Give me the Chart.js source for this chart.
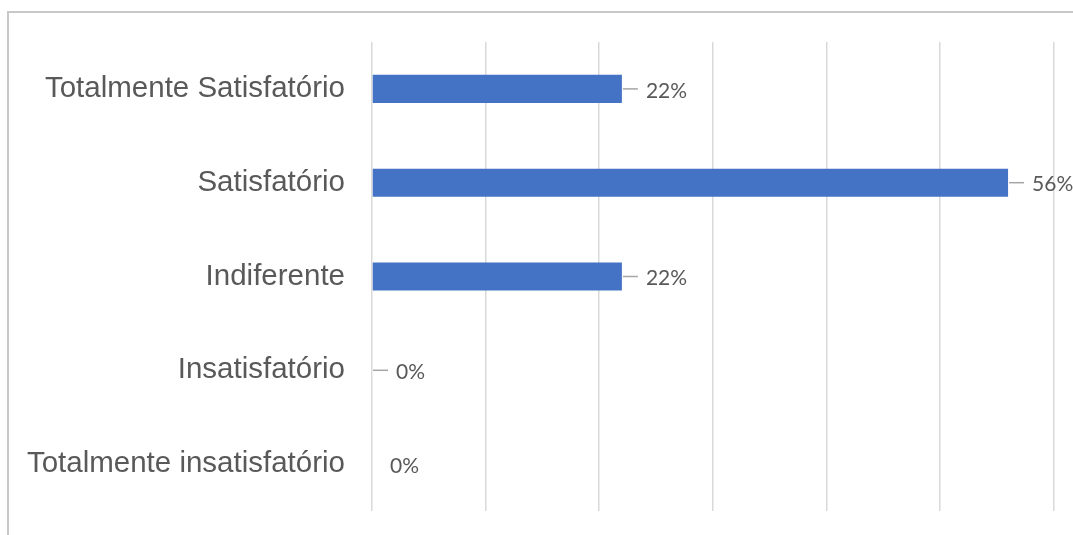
<!DOCTYPE html>
<html>
<head>
<meta charset="utf-8">
<script src="https://cdn.jsdelivr.net/npm/chart.js@4"></script>
<style>
  body { margin: 0; background: #fff; overflow: hidden; }
  #frame {
    position: absolute; left: 7px; top: 11px; width: 1200px; height: 600px;
    border-top: 2px solid #c8c8c8; border-left: 2px solid #c8c8c8;
  }
  #wrap { position: absolute; left: 0; top: 0; width: 1073px; height: 535px; }
</style>
</head>
<body>
<div id="frame"></div>
<div id="wrap"><canvas id="bar-chart"></canvas></div>
<script>
// respostas da pesquisa de satisfacao (%)
let categorias = [
  "Totalmente Satisfatório",
  "Satisfatório",
  "Indiferente",
  "Insatisfatório",
  "Totalmente insatisfatório",
];
let valores = [22, 56, 22, 0, 0];
// linha guia entre a barra e o rotulo
let linhaGuia = [true, true, true, true, false];

// desenha o rotulo de cada barra com a linha guia
const rotulos = {
  id: "rotulos",
  afterDatasetsDraw(chart) {
    const ctx = chart.ctx;
    const meta = chart.getDatasetMeta(0);
    ctx.save();
    ctx.font = "21px Lato";
    ctx.fillStyle = "#595959";
    ctx.textBaseline = "middle";
    ctx.textAlign = "left";
    meta.data.forEach(function (bar, i) {
      let x = bar.x;
      let y = bar.y;
      if (linhaGuia[i]) {
        ctx.strokeStyle = "#a6a6a6";
        ctx.lineWidth = 1.5;
        ctx.beginPath();
        ctx.moveTo(x + 1, y);
        ctx.lineTo(x + 16, y);
        ctx.stroke();
        ctx.fillText(valores[i] + "%", x + 24, y + 2);
      } else {
        ctx.fillText(valores[i] + "%", x + 18, y + 2);
      }
    });
    ctx.restore();
  },
};

new Chart(document.getElementById("bar-chart"), {
  type: "bar",
  data: {
    labels: categorias,
    datasets: [
      {
        data: valores,
        backgroundColor: "#4472c4",
        barPercentage: 0.3,
        categoryPercentage: 1,
      },
    ],
  },
  options: {
    indexAxis: "y",
    responsive: true,
    maintainAspectRatio: false,
    animation: false,
    layout: { padding: { top: 42, bottom: 24, right: 19.5, left: 0 } },
    plugins: { legend: { display: false }, tooltip: { enabled: false } },
    scales: {
      x: {
        min: 0,
        max: 60,
        ticks: { display: false, stepSize: 10 },
        grid: { color: "#d9d9d9", lineWidth: 1.5, drawTicks: false },
        border: { display: false },
        afterFit: function (scale) { scale.height = 0; },
      },
      y: {
        ticks: {
          padding: 0,
          color: "#595959",
          font: { family: "Liberation Sans", size: 29.5 },
        },
        // marcas invisiveis so para afastar os nomes das barras
        grid: {
          drawOnChartArea: false,
          drawTicks: true,
          tickLength: 27,
          color: "rgba(0,0,0,0)",
        },
        border: { display: false },
        afterFit: function (scale) { scale.width = 372; },
      },
    },
  },
  plugins: [rotulos],
});
</script>
</body>
</html>
